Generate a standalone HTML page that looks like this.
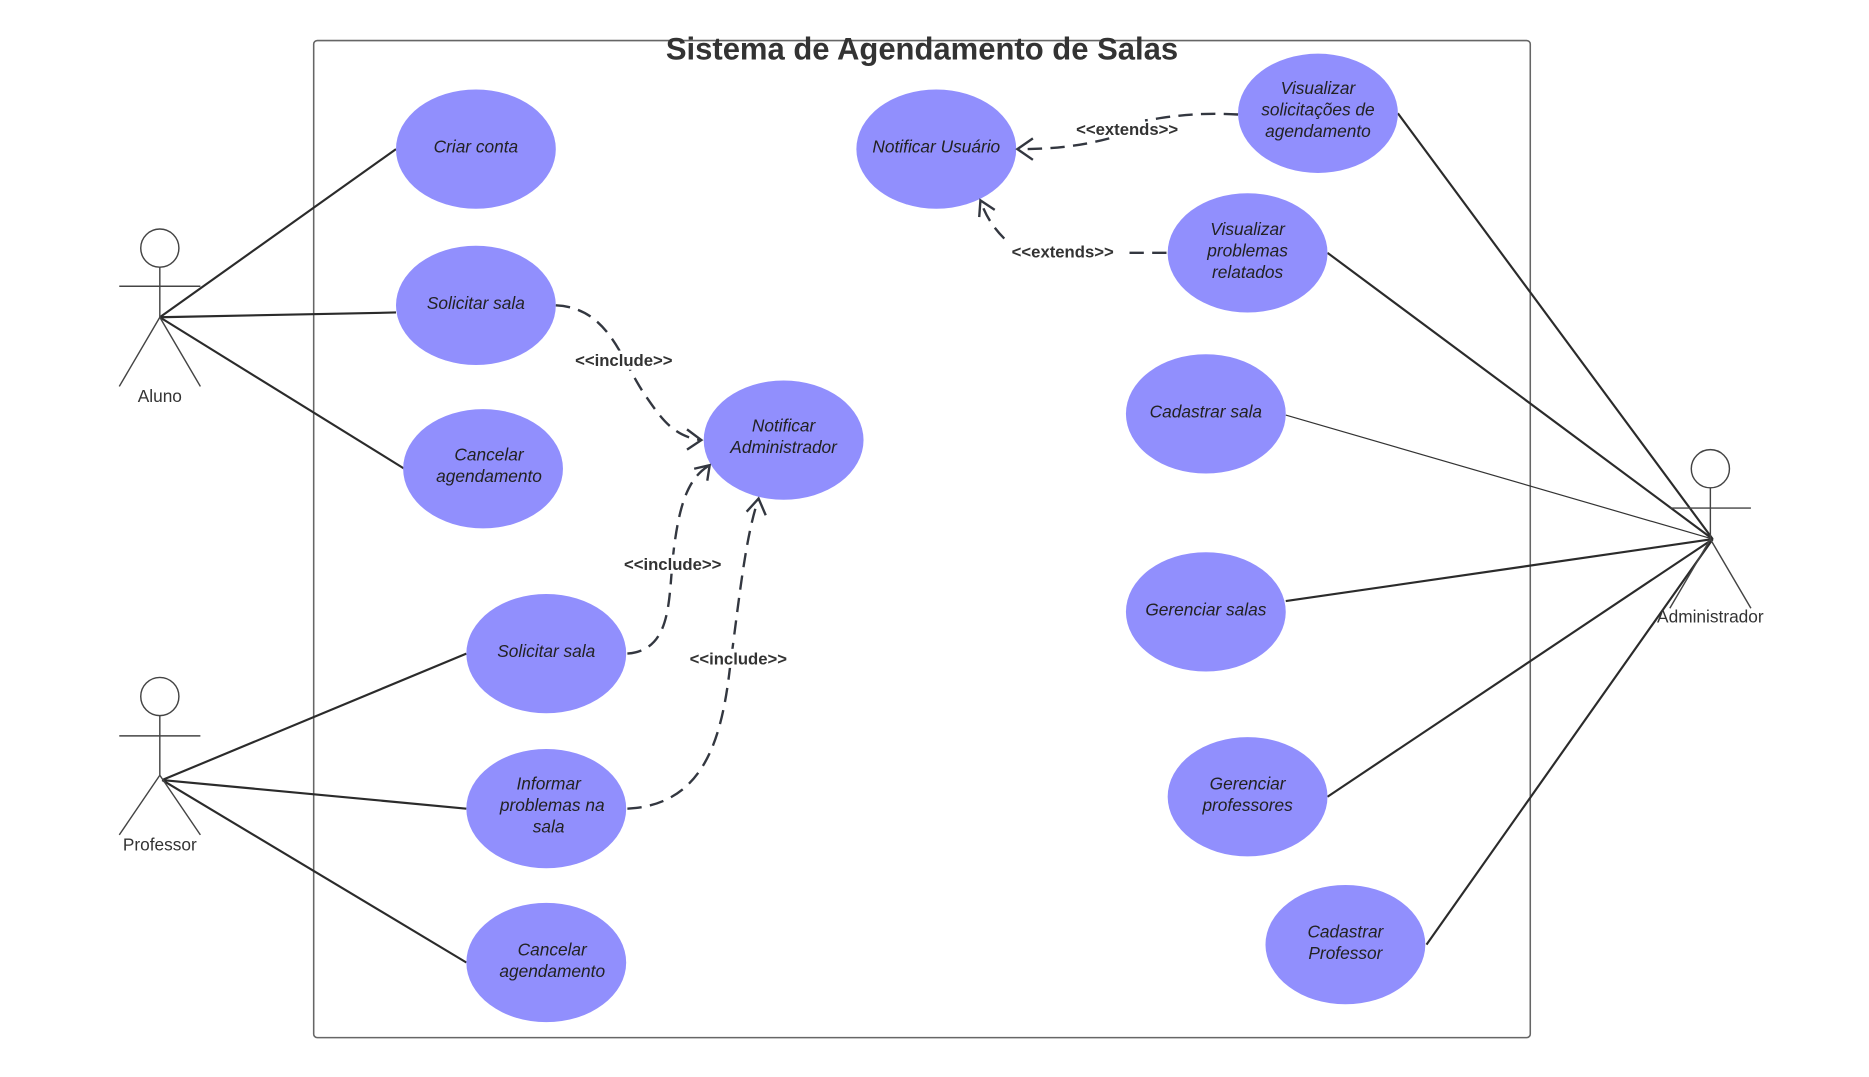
<!DOCTYPE html>
<html><head><meta charset="utf-8"><style>
html,body{margin:0;padding:0;background:#fff;}
svg{display:block;}
text{font-family:"Liberation Sans",sans-serif;}
.uc{fill:#918ffd;}
.t{font-size:14.5px;font-style:italic;fill:#222;text-anchor:middle;}
.l{stroke:#2b2b2b;stroke-width:1.8;fill:none;}
.a{stroke:#444;stroke-width:1.2;fill:none;}
.d{stroke:#333740;stroke-width:2;fill:none;stroke-dasharray:12,7;}
.h{stroke:#333740;stroke-width:2;fill:none;}
.lab{font-size:14px;font-weight:bold;fill:#333;text-anchor:middle;}
.an{font-size:14.5px;fill:#333;text-anchor:middle;}
</style></head><body>
<svg width="1869" height="1077" viewBox="0 0 1567 903" preserveAspectRatio="none" xmlns="http://www.w3.org/2000/svg">
<rect x="263" y="34" width="1020" height="836" rx="3" fill="none" stroke="#666" stroke-width="1.3"/>
<text x="773" y="50" font-size="26" font-weight="bold" fill="#333" text-anchor="middle">Sistema de Agendamento de Salas</text>

<g class="l">
<line x1="134" y1="266" x2="332" y2="125"/>
<line x1="134" y1="266" x2="332" y2="262"/>
<line x1="134" y1="266" x2="339" y2="393"/>
<line x1="136" y1="654" x2="391" y2="548"/>
<line x1="136" y1="654" x2="391" y2="678"/>
<line x1="136" y1="654" x2="391" y2="807"/>
<line x1="1436" y1="452" x2="1172" y2="95"/>
<line x1="1436" y1="452" x2="1113" y2="212"/>
<line x1="1436" y1="452" x2="1078" y2="504"/>
<line x1="1436" y1="452" x2="1113" y2="668"/>
<line x1="1436" y1="452" x2="1196" y2="792"/>
</g>
<line x1="1436" y1="452" x2="1078" y2="348" stroke="#333" stroke-width="1"/>

<g class="a">
<circle cx="134" cy="208" r="16"/><line x1="134" y1="224" x2="134" y2="266"/><line x1="100" y1="240" x2="168" y2="240"/><line x1="134" y1="266" x2="100" y2="324"/><line x1="134" y1="266" x2="168" y2="324"/>
<circle cx="134" cy="584" r="16"/><line x1="134" y1="600" x2="134" y2="650"/><line x1="100" y1="617" x2="168" y2="617"/><line x1="134" y1="650" x2="100" y2="700"/><line x1="134" y1="650" x2="168" y2="700"/>
<circle cx="1434" cy="393" r="16"/><line x1="1434" y1="409" x2="1434" y2="452"/><line x1="1400" y1="426" x2="1468" y2="426"/><line x1="1434" y1="452" x2="1400" y2="510"/><line x1="1434" y1="452" x2="1468" y2="510"/>
</g>
<text class="an" x="134" y="337">Aluno</text>
<text class="an" x="134" y="713">Professor</text>
<text class="an" x="1434" y="522">Administrador</text>

<g class="uc">
<ellipse cx="399" cy="125" rx="67" ry="50"/>
<ellipse cx="399" cy="256" rx="67" ry="50"/>
<ellipse cx="405" cy="393" rx="67" ry="50"/>
<ellipse cx="657" cy="369" rx="67" ry="50"/>
<ellipse cx="458" cy="548" rx="67" ry="50"/>
<ellipse cx="458" cy="678" rx="67" ry="50"/>
<ellipse cx="458" cy="807" rx="67" ry="50"/>
<ellipse cx="785" cy="125" rx="67" ry="50"/>
<ellipse cx="1105" cy="95" rx="67" ry="50"/>
<ellipse cx="1046" cy="212" rx="67" ry="50"/>
<ellipse cx="1011" cy="347" rx="67" ry="50"/>
<ellipse cx="1011" cy="513" rx="67" ry="50"/>
<ellipse cx="1046" cy="668" rx="67" ry="50"/>
<ellipse cx="1128" cy="792" rx="67" ry="50"/>
</g>
<text class="t" x="399" y="128">Criar conta</text>
<text class="t" x="399" y="259">Solicitar sala</text>
<text class="t" x="410" y="386">Cancelar</text><text class="t" x="410" y="404">agendamento</text>
<text class="t" x="657" y="362">Notificar</text><text class="t" x="657" y="380">Administrador</text>
<text class="t" x="458" y="551">Solicitar sala</text>
<text class="t" x="460" y="662">Informar</text><text class="t" x="463" y="680">problemas na</text><text class="t" x="460" y="698">sala</text>
<text class="t" x="463" y="801">Cancelar</text><text class="t" x="463" y="819">agendamento</text>
<text class="t" x="785" y="128">Notificar Usuário</text>
<text class="t" x="1105" y="79">Visualizar</text><text class="t" x="1105" y="97">solicitações de</text><text class="t" x="1105" y="115">agendamento</text>
<text class="t" x="1046" y="197">Visualizar</text><text class="t" x="1046" y="215">problemas</text><text class="t" x="1046" y="233">relatados</text>
<text class="t" x="1011" y="350">Cadastrar sala</text>
<text class="t" x="1011" y="516">Gerenciar salas</text>
<text class="t" x="1046" y="662">Gerenciar</text><text class="t" x="1046" y="680">professores</text>
<text class="t" x="1128" y="786">Cadastrar</text><text class="t" x="1128" y="804">Professor</text>

<path class="d" d="M466,256 C510,258 520,300 540,330 C555,352 565,366 588,369"/>
<path class="h" d="M576,360 L588,369 L576,377"/>
<path class="d" d="M526,548 C565,545 560,500 565,460 C570,420 578,400 595,390"/>
<path class="h" d="M582,393 L595,390 L593,403"/>
<path class="d" d="M526,678 C590,675 605,620 612,560 C620,500 625,450 636,418"/>
<path class="h" d="M626,429 L636,418 L642,432"/>
<path class="d" d="M1038,96 C1000,94 980,98 960,101 M930,116 C900,124 875,125 853,125"/>
<path class="h" d="M866,116 L853,125 L866,134"/>
<path class="d" d="M978,212 L945,212 M842,200 C832,190 826,180 822,168"/>
<path class="h" d="M821,182 L822,168 L834,176"/>
<rect x="480" y="294" width="88" height="16" fill="#fff"/>
<text class="lab" x="523" y="307">&lt;&lt;include&gt;&gt;</text>
<rect x="521" y="465" width="88" height="16" fill="#fff"/>
<text class="lab" x="564" y="478">&lt;&lt;include&gt;&gt;</text>
<rect x="575" y="544" width="88" height="16" fill="#fff"/>
<text class="lab" x="619" y="557">&lt;&lt;include&gt;&gt;</text>
<text class="lab" x="945" y="113">&lt;&lt;extends&gt;&gt;</text>
<text class="lab" x="891" y="216">&lt;&lt;extends&gt;&gt;</text>
</svg>
</body></html>
